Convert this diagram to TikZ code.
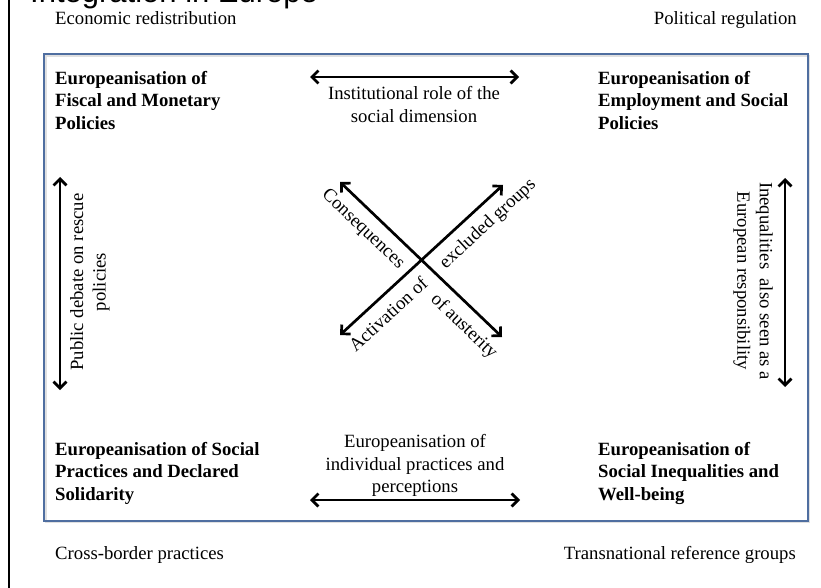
\documentclass[tikz,border=0pt]{standalone}
\usepackage{fontspec}
\setmainfont{Liberation Serif}
\newfontfamily\titlefont{Liberation Sans}
\usetikzlibrary{arrows.meta}
\definecolor{boxblue}{RGB}{79,110,160}

\begin{document}
\begin{tikzpicture}[x=1pt,y=-1pt,>={Straight Barb[length=6.5pt,width=13pt]},
    txt/.style={font=\fontsize{18.7}{22.5}\selectfont,inner sep=0pt},
    corner/.style={txt,font=\fontsize{18.7}{22.5}\selectfont\bfseries,align=left,anchor=north west},
    arr/.style={<->,line width=2.7pt}]
            \useasboundingbox (0,0) rectangle (821,588);
            \clip (0,0) rectangle (821,588);

            %title, cut at the top
            \node[anchor=base west,inner sep=0pt,font=\titlefont\fontsize{31}{31}\selectfont] (title) at (30,3) {Integration in Europe};

            %line on the left and blue box
            \draw[line width=1.6pt] (9,0) -- (9,588);
            \draw[black!12,line width=1.5pt] (46,56) rectangle (809.5,522.5);
            \draw[boxblue,line width=2.4pt] (44,54) rectangle (808,521);

            %labels outside the box
            \node[txt,anchor=base west] (econ) at (55,25) {Economic redistribution};
            \node[txt,anchor=base east] (polit) at (797,25) {Political regulation};
            \node[txt,anchor=base west] (cross) at (55,559) {Cross-border practices};
            \node[txt,anchor=base east] (trans) at (796,559) {Transnational reference groups};

            %the four corners
            \node[corner] (fiscal) at (55,71) {Europeanisation of\\Fiscal and Monetary\\Policies};
            \node[corner] (employ) at (598,71) {Europeanisation of\\Employment and Social\\Policies};
            \node[corner] (solid) at (55,442) {Europeanisation of Social\\Practices and Declared\\Solidarity};
            \node[corner] (wellb) at (598,442) {Europeanisation of\\Social Inequalities and\\Well-being};

            %arrow on top
            \coordinate (topl) at (310,77);
            \coordinate (topr) at (519,77);
            \draw[arr] (topl) -- (topr);
            \node[txt,align=center,anchor=north] (instit) at (414,86.5) {Institutional role of the\\social dimension};

            %arrow at the bottom
            \coordinate (botl) at (310,500);
            \coordinate (botr) at (520,500);
            \draw[arr] (botl) -- (botr);
            \node[txt,align=center,anchor=north] (indiv) at (415,434.5) {Europeanisation of\\individual practices and\\perceptions};

            %arrow on the left
            \coordinate (leftt) at (60,177);
            \coordinate (leftb) at (60,390);
            \draw[arr] (leftt) -- (leftb);
            \node[txt,align=center,rotate=90] (debate) at (90,282) {Public debate on rescue\\policies};

            %arrow on the right
            \coordinate (rightt) at (785,178);
            \coordinate (rightb) at (785,387);
            \draw[arr] (rightt) -- (rightb);
            \node[txt,align=center,rotate=-90] (inequal) at (753,281) {Inequalities~ also seen as a\\European responsibility};

            %the cross in the middle
            \coordinate (xnw) at (340,182);
            \coordinate (xse) at (502,337);
            \coordinate (xsw) at (340,335);
            \coordinate (xne) at (503,185);
            \draw[arr] (xnw) -- (xse)
                node[txt,pos=0.22,sloped,below=9pt] (conseq) {Consequences}
                node[txt,pos=0.845,sloped,below=9pt] (auster) {of austerity};
            \draw[arr] (xsw) -- (xne)
                node[txt,pos=0.224,sloped,below=9pt] (activ) {Activation of}
                node[txt,pos=0.83,sloped,below=9pt] (exclud) {excluded groups};
        \end{tikzpicture}
\end{document}
